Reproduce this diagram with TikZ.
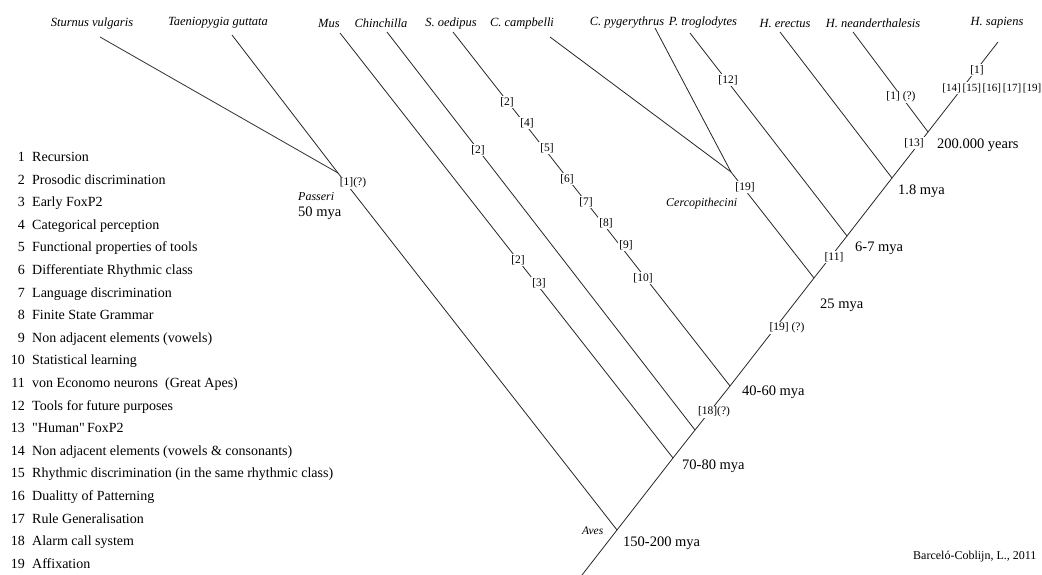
\documentclass[tikz,border=0pt]{standalone}
\usepackage{fontspec}
\setmainfont{Liberation Serif}[Ligatures=TeXOff]
\begin{document}
\begin{tikzpicture}[x=1pt,y=-1pt,
  ln/.style={line width=0.8pt,draw=black!85},
  sp/.style={font=\fontsize{12.5}{14}\selectfont\itshape,inner sep=0pt},
  spl/.style={font=\fontsize{12}{14}\selectfont\itshape,inner sep=0pt,anchor=west},
  br/.style={font=\fontsize{11.5}{13}\selectfont,fill=white,inner sep=1pt},
  tm/.style={font=\fontsize{14.5}{16}\selectfont,anchor=west,inner sep=0pt},
  lg/.style={font=\fontsize{14}{16}\selectfont,inner sep=0pt}]
\useasboundingbox (0,0) rectangle (1042,575);
\fill[white] (0,0) rectangle (1042,575);

% species
\node[sp] (Sv) at (92,23) {Sturnus vulgaris};
\node[sp] (Tg) at (218,23) {Taeniopygia guttata};
\node[sp] (Mu) at (329,23) {Mus};
\node[sp] (Ch) at (381,23) {Chinchilla};
\node[sp] (So) at (451,23) {S. oedipus};
\node[sp] (Cc) at (522,23) {C. campbelli};
\node[sp] (Cp) at (627,23) {C. pygerythrus};
\node[sp] (Pt) at (703,23) {P. troglodytes};
\node[sp] (He) at (785,23) {H. erectus};
\node[sp] (Hn) at (873,23) {H. neanderthalesis};
\node[sp] (Hs) at (997,23) {H. sapiens};

% line tops
\coordinate (Sv-t) at (100,37);
\coordinate (Tg-t) at (232,35);
\coordinate (Mu-t) at (340,33);
\coordinate (Ch-t) at (387,32);
\coordinate (So-t) at (453,32);
\coordinate (Cc-t) at (550,37);
\coordinate (Cp-t) at (655,28);
\coordinate (Pt-t) at (690,33);
\coordinate (He-t) at (780,32);
\coordinate (Hn-t) at (853,32);

% trunk
\coordinate (root) at (582,575);
\coordinate (aves) at (617,530);
\coordinate (n70) at (673,458);
\coordinate (n18) at (695,430);
\coordinate (n40) at (730,386);
\coordinate (n25) at (814,278);
\coordinate (n67) at (847,236);
\coordinate (n18m) at (892,178);
\coordinate (n200) at (928,132);
\coordinate (top) at (998,42);
\coordinate (Pn) at (338,173);
\coordinate (Cn) at (731,172);

\draw[ln] (root) -- (aves) -- (n70) -- (n18) -- (n40) -- (n25) -- (n67) -- (n18m) -- (n200) -- (top);
\draw[ln] (Sv-t) -- (Pn);
\draw[ln] (Tg-t) -- (Pn);
\draw[ln] (Pn) -- (aves);
\draw[ln] (Mu-t) -- (n70);
\draw[ln] (Ch-t) -- (n18);
\draw[ln] (So-t) -- (n40);
\draw[ln] (Cc-t) -- (Cn);
\draw[ln] (Cp-t) -- (Cn);
\draw[ln] (Cn) -- (n25);
\draw[ln] (Pt-t) -- (n67);
\draw[ln] (He-t) -- (n18m);
\draw[ln] (Hn-t) -- (n200);

% bracket labels on lines
\node[br] (pq) at (353,183) {[1](?)};
\node[br] (mu2) at (518,260) {[2]};
\node[br] (mu3) at (539,283) {[3]};
\node[br] (ch2) at (478,150) {[2]};
\node[br] (so2) at (507,102) {[2]};
\node[br] (so4) at (527,123) {[4]};
\node[br] (so5) at (547,148) {[5]};
\node[br] (so6) at (567,179) {[6]};
\node[br] (so7) at (586,202) {[7]};
\node[br] (so8) at (606,223) {[8]};
\node[br] (so9) at (626,245) {[9]};
\node[br] (so10) at (643,278) {[10]};
\node[br] (ce19) at (745,187) {[19]};
\node[br] (pt12) at (728,80) {[12]};
\node[br] (hn1) at (901,97) {[1] (?)};
\node[br] (tr18) at (714,412) {[18](?)};
\node[br] (tr19) at (787,328) {[19] (?)};
\node[br] (tr11) at (834,257) {[11]};
\node[br] (tr13) at (914,143) {[13]};
\node[br,font=\fontsize{11}{13}\selectfont,inner xsep=0pt,anchor=east] (hs14) at (1041.5,88) {[14]\hspace{1.8pt}[15]\hspace{1.8pt}[16]\hspace{1.8pt}[17]\hspace{1.8pt}[19]};
\node[br] (hs1) at (977,70) {[1]};

% time labels
\node[spl] (pas) at (298,197) {Passeri};
\node[tm] (t50) at (298,213) {50 mya};
\node[spl,font=\fontsize{11.5}{13}\selectfont\itshape] (avl) at (582,531) {Aves};
\node[tm] (t150) at (623,543) {150-200 mya};
\node[tm] (t70) at (682,466) {70-80 mya};
\node[tm] (t40) at (742,392) {40-60 mya};
\node[tm] (t25) at (820,305) {25 mya};
\node[tm] (t67) at (855,248) {6-7 mya};
\node[tm] (t18) at (898,191) {1.8 mya};
\node[tm] (t200) at (937,145) {200.000 years};
\node[spl] (cer) at (666,204) {Cercopithecini};
\node[font=\fontsize{12}{14}\selectfont,anchor=west,inner sep=0pt] (cred) at (913,557) {Barceló-Coblijn, L., 2011};

% legend
\foreach \i/\t in {1/Recursion,2/Prosodic discrimination,3/Early FoxP2,4/Categorical perception,5/Functional properties of tools,6/Differentiate Rhythmic class,7/Language discrimination,8/Finite State Grammar,9/Non adjacent elements (vowels),10/Statistical learning,11/von Economo neurons\ \ (Great Apes),12/Tools for future purposes,13/"Human"\,FoxP2,14/Non adjacent elements (vowels \& consonants),15/Rhythmic discrimination (in the same rhythmic class),16/Dualitty of Patterning,17/Rule Generalisation,18/Alarm call system,19/Affixation}{
  \node[lg,anchor=base east] (ln\i) at (25,{161.5+(\i-1)*22.6}) {\i};
  \node[lg,anchor=base west] (lt\i) at (32,{161.5+(\i-1)*22.6}) {\t};
}
\end{tikzpicture}
\end{document}
